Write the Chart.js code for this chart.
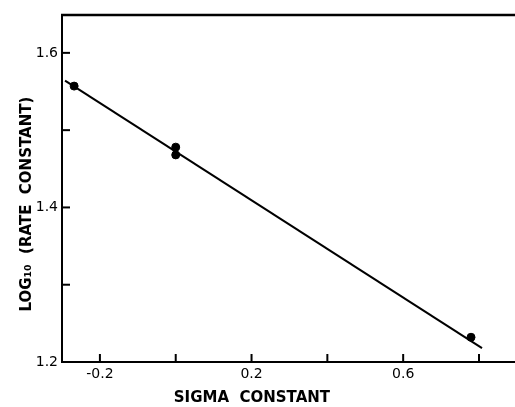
<!DOCTYPE html>
<html>
<head>
<meta charset="utf-8">
<script src="https://cdn.jsdelivr.net/npm/chart.js@4/dist/chart.umd.min.js"></script>
<style>
  html, body { margin: 0; padding: 0; background: #fff; }
  #wrap { width: 515px; height: 407px; }
</style>
</head>
<body>
<div id="wrap"><canvas id="myChart" width="515" height="407"></canvas></div>
<script>
// measured points (sigma, log10 k)
const sigmaValues = [-0.268, 0.0, 0.0, 0.779];
const logKValues = [1.557, 1.478, 1.468, 1.232];

// fitted straight line, end points
const fitSigma = [-0.292, 0.808];
const fitLogK = [1.564, 1.218];

// axis ticks
const xTicks = [-0.2, 0.0, 0.2, 0.4, 0.6, 0.8];
const xTickLabels = ["-0.2", "", "0.2", "", "0.6", ""];
const yTicks = [1.2, 1.3, 1.4, 1.5, 1.6];
const yTickLabels = ["1.2", "", "1.4", "", "1.6"];

const font = "'DejaVu Sans', 'Liberation Sans', sans-serif";

let pairs = (xs, ys) => xs.map((x, i) => ({ x: x, y: ys[i] }));

// tick marks point inward, and the top frame line
const frame = {
  id: "frame",
  afterDraw: (chart) => {
    const ctx = chart.ctx;
    const area = chart.chartArea;
    const sx = chart.scales.x;
    const sy = chart.scales.y;
    ctx.save();
    ctx.strokeStyle = "#000";
    ctx.lineWidth = 2;
    xTicks.forEach((v) => {
      let px = sx.getPixelForValue(v);
      ctx.beginPath();
      ctx.moveTo(px, area.bottom);
      ctx.lineTo(px, area.bottom - 8);
      ctx.stroke();
    });
    yTicks.forEach((v) => {
      let py = sy.getPixelForValue(v);
      ctx.beginPath();
      ctx.moveTo(area.left, py);
      ctx.lineTo(area.left + 8, py);
      ctx.stroke();
    });
    ctx.lineWidth = 2.5;
    ctx.beginPath();
    ctx.moveTo(area.left - 1, area.top);
    ctx.lineTo(area.right, area.top);
    ctx.stroke();
    ctx.restore();
  },
};

const ctx = document.getElementById("myChart").getContext("2d");
const chart = new Chart(ctx, {
  type: "scatter",
  data: {
    datasets: [
      {
        label: "fit",
        type: "line",
        data: pairs(fitSigma, fitLogK),
        borderColor: "#000",
        borderWidth: 2,
        pointRadius: 0,
        fill: false,
        tension: 0,
      },
      {
        label: "data",
        data: pairs(sigmaValues, logKValues),
        backgroundColor: "#000",
        borderColor: "#000",
        pointRadius: 4,
      },
    ],
  },
  options: {
    responsive: false,
    animation: false,
    layout: { autoPadding: false, padding: { top: 15, right: 0, left: 0, bottom: 0 } },
    plugins: {
      legend: { display: false },
      tooltip: { enabled: false },
    },
    scales: {
      x: {
        type: "linear",
        min: -0.3,
        max: 0.895,
        afterBuildTicks: (scale) => {
          scale.ticks = xTicks.map((v) => ({ value: v }));
        },
        afterFit: (scale) => {
          scale.height = 45;
          scale.paddingLeft = 0;
          scale.paddingRight = 0;
        },
        grid: { display: false, drawTicks: false },
        border: { display: true, color: "#000", width: 2 },
        ticks: {
          padding: 4,
          color: "#000",
          maxRotation: 0,
          autoSkip: false,
          font: { family: font, size: 14 },
          callback: (v) => {
            let i = xTicks.findIndex((t) => Math.abs(t - v) < 1e-6);
            return i >= 0 ? xTickLabels[i] : "";
          },
        },
        title: {
          display: true,
          // trailing spaces move the title left, as in the original
          text: "SIGMA  CONSTANT              ",
          color: "#000",
          font: { family: font, size: 15, weight: "bold" },
          padding: { top: 4, bottom: 0 },
        },
      },
      y: {
        type: "linear",
        min: 1.2,
        max: 1.649,
        afterBuildTicks: (scale) => {
          scale.ticks = yTicks.map((v) => ({ value: v }));
        },
        afterFit: (scale) => {
          scale.width = 62;
          scale.paddingTop = 0;
          scale.paddingBottom = 0;
        },
        grid: { display: false, drawTicks: false },
        border: { display: true, color: "#000", width: 2 },
        ticks: {
          padding: 4,
          color: "#000",
          autoSkip: false,
          font: { family: font, size: 14 },
          callback: (v) => {
            let i = yTicks.findIndex((t) => Math.abs(t - v) < 1e-6);
            return i >= 0 ? yTickLabels[i] : "";
          },
        },
        title: {
          display: true,
          text: "LOG\u2081\u2080  (RATE  CONSTANT)      ",
          color: "#000",
          font: { family: font, size: 15, weight: "bold" },
          padding: { top: 18, bottom: 4 },
        },
      },
    },
  },
  plugins: [frame],
});
</script>
</body>
</html>
